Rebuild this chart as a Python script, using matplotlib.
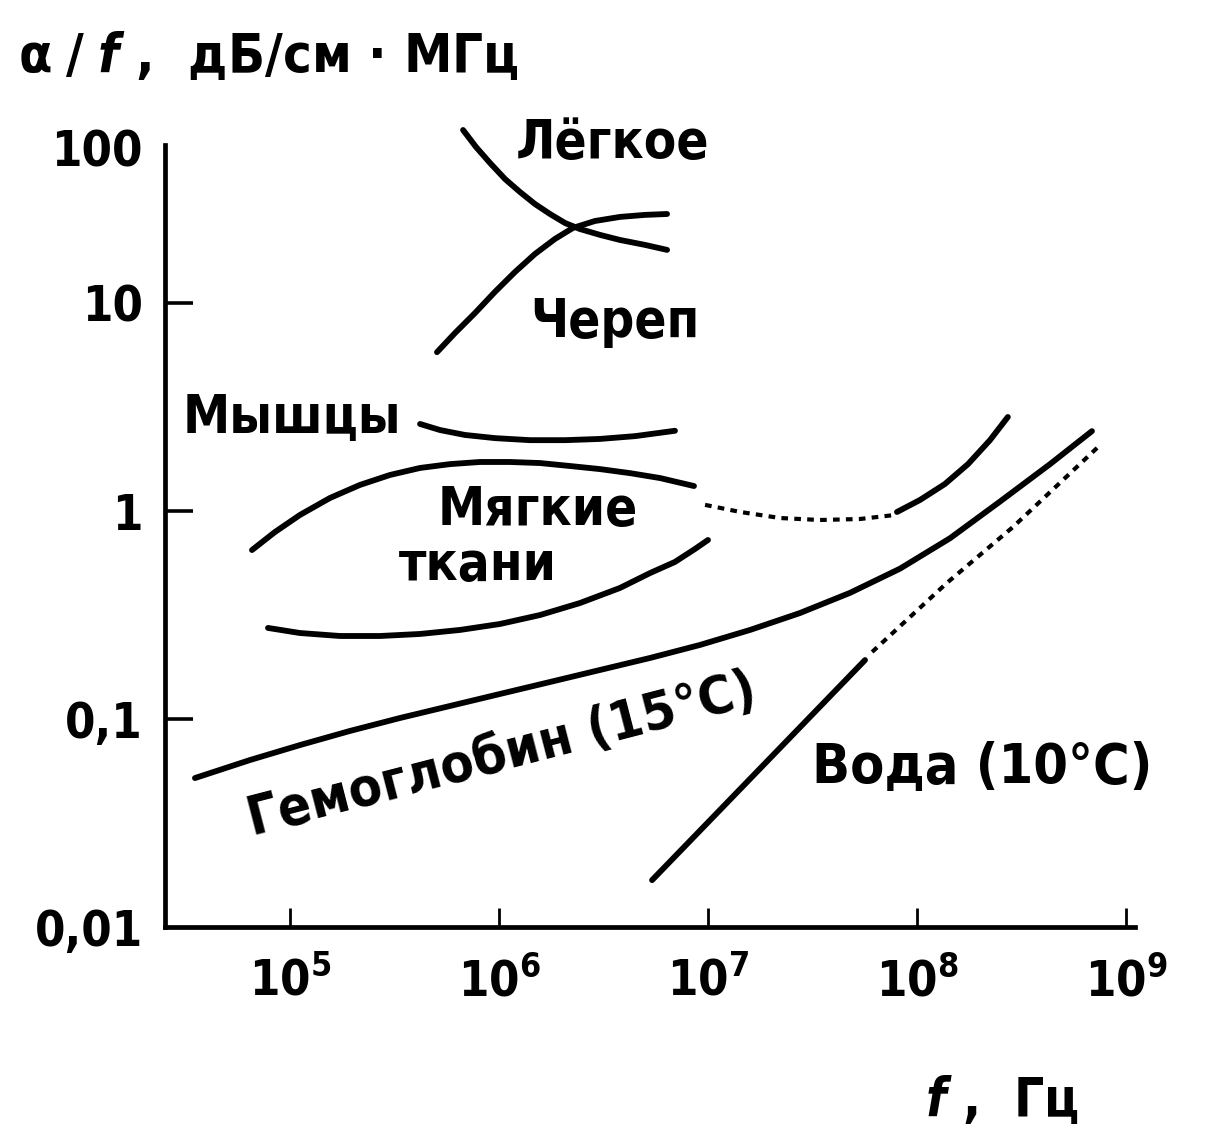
import numpy as np
import matplotlib
matplotlib.use("Agg")
import matplotlib.pyplot as plt
from matplotlib.ticker import FixedLocator, NullLocator

plt.rcParams['font.family'] = ['DejaVu Sans']
plt.rcParams['font.stretch'] = 'condensed'
plt.rcParams['font.weight'] = 'bold'
plt.rcParams['mathtext.fontset'] = 'dejavusans'

# ---------------- data (f in Hz, alpha/f in dB/(cm*MHz)) ----------------
lung_f = [6.73e5, 7.76e5, 9.06e5, 1.068e6, 1.26e6, 1.486e6, 1.754e6, 2.07e6, 2.44e6, 3.04e6, 3.79e6, 4.99e6, 6.37e6]
lung_a = [130.6, 101.5, 80.0, 63.1, 52.0, 43.5, 37.5, 32.8, 30.0, 27.5, 25.5, 23.7, 22.0]

skull_f = [5.05e5, 6.16e5, 7.68e5, 9.57e5, 1.193e6, 1.486e6, 1.853e6, 2.26e6, 2.88e6, 3.79e6, 4.99e6, 6.37e6]
skull_a = [5.8, 7.17, 8.95, 11.8, 15.85, 20.7, 25.9, 30.5, 33.8, 35.9, 37.0, 37.5]

muscle_f = [4.19e5, 5.22e5, 6.87e5, 9.57e5, 1.407e6, 2.07e6, 3.04e6, 4.48e6, 6.95e6]
muscle_a = [2.62, 2.45, 2.32, 2.24, 2.19, 2.19, 2.22, 2.29, 2.43]

soft_up_f = [6.58e4, 8.47e4, 1.116e5, 1.554e5, 2.16e5, 3.01e5, 4.19e5, 5.83e5, 8.11e5, 1.129e6,
             1.57e6, 2.187e6, 3.04e6, 4.24e6, 5.89e6, 8.57e6]
soft_up_a = [0.649, 0.792, 0.957, 1.155, 1.334, 1.49, 1.61, 1.68, 1.72, 1.72,
             1.70, 1.645, 1.59, 1.52, 1.44, 1.318]

soft_dash_f = [9.68e6, 1.42e7, 2.21e7, 3.43e7, 5.33e7, 7.85e7]
soft_dash_a = [1.07, 0.99, 0.925, 0.905, 0.915, 0.957]

soft_hi_f = [8.02e7, 1.034e8, 1.36e8, 1.754e8, 2.234e8, 2.72e8]
soft_hi_a = [0.989, 1.13, 1.348, 1.68, 2.19, 2.83]

soft_low_f = [7.85e4, 1.116e5, 1.734e5, 2.696e5, 4.19e5, 6.51e5, 1.01e6, 1.57e6, 2.44e6, 3.79e6,
              5.28e6, 6.95e6, 8.66e6, 1.0e7]
soft_low_a = [0.274, 0.259, 0.2506, 0.2506, 0.2563, 0.268, 0.2862, 0.316, 0.361, 0.4264,
              0.503, 0.569, 0.6566, 0.7254]

hemo_f = [3.51e4, 6.44e4, 1.12e5, 1.936e5, 3.36e5, 5.83e5, 1.01e6, 1.754e6, 3.04e6, 5.28e6,
          9.16e6, 1.59e7, 2.75e7, 4.78e7, 8.29e7, 1.44e8, 2.495e8, 4.33e8, 6.87e8]
hemo_a = [0.052, 0.0635, 0.075, 0.0876, 0.1011, 0.1155, 0.1319, 0.1506, 0.172, 0.1965,
          0.227, 0.268, 0.323, 0.404, 0.528, 0.74, 1.11, 1.68, 2.42]

water_f = [5.4e6, 5.64e7]
water_a = [0.0168, 0.192]

water_dash_f = [6.1e7, 1.39e8, 2.88e8, 7.5e8]
water_dash_a = [0.21, 0.451, 0.838, 2.07]

y_ticks = [0.01, 0.1, 1, 10, 100]
y_ticklabels = ['0,01', '0,1', '1', '10', '100']
x_ticks = [1e5, 1e6, 1e7, 1e8, 1e9]
x_ticklabels = [r'$\mathbf{10^{5}}$', r'$\mathbf{10^{6}}$', r'$\mathbf{10^{7}}$',
                r'$\mathbf{10^{8}}$', r'$\mathbf{10^{9}}$']

# ---------------- figure ----------------
W, H = 1209, 1135
fig = plt.figure(figsize=(W / 100, H / 100), dpi=100)
ax = fig.add_axes([165 / W, 1 - 927 / H, 970 / W, (927 - 145) / H])

# the printed y axis compresses the 10..100 decade
K = 155.0 / 208.0


def fwd(v):
    v = np.asarray(v, dtype=float)
    L = np.log10(np.clip(v, 1e-300, None))
    return np.where(L <= 1, L, 1 + (L - 1) * K)


def inv(u):
    u = np.asarray(u, dtype=float)
    return np.where(u <= 1, 10.0 ** u, 10.0 ** (1 + (u - 1) / K))


ax.set_xscale('log')
ax.set_yscale('function', functions=(fwd, inv))
ax.set_xlim(10 ** 4.402, 10 ** 9.043)
ax.set_ylim(0.01, 104.5)

lw = 4.2
solid = dict(color='black', lw=lw, solid_capstyle='round', solid_joinstyle='round')
dashed = dict(color='black', lw=3.0, ls=(0, (1.6, 1.5)))

ax.plot(lung_f, lung_a, clip_on=False, **solid)
ax.plot(skull_f, skull_a, **solid)
ax.plot(muscle_f, muscle_a, **solid)
ax.plot(soft_up_f, soft_up_a, **solid)
ax.plot(soft_dash_f, soft_dash_a, **dashed)
ax.plot(soft_hi_f, soft_hi_a, **solid)
ax.plot(soft_low_f, soft_low_a, **solid)
ax.plot(hemo_f, hemo_a, **solid)
ax.plot(water_f, water_a, **solid)
ax.plot(water_dash_f, water_dash_a, **dashed)

# axes styling
for s in ['top', 'right']:
    ax.spines[s].set_visible(False)
ax.spines['left'].set_linewidth(3.4)
ax.spines['bottom'].set_linewidth(3.4)
ax.spines['left'].set_capstyle('projecting')

ax.yaxis.set_major_locator(FixedLocator(y_ticks))
ax.set_yticklabels(y_ticklabels)
ax.yaxis.set_minor_locator(NullLocator())
ax.xaxis.set_major_locator(FixedLocator(x_ticks))
ax.set_xticklabels(x_ticklabels)
ax.xaxis.set_minor_locator(NullLocator())

ax.tick_params(axis='y', direction='in', length=20, width=2.6, pad=16, labelsize=35)
ax.tick_params(axis='x', direction='in', length=14, width=2.0, pad=22, labelsize=35)
# the top of the printed axis carries the "100" label but no tick mark
ax.yaxis.get_major_ticks()[-1].tick1line.set_visible(False)
ax.yaxis.get_major_ticks()[0].tick1line.set_visible(False)

# labels
fs = 38


def ftext(px, py, s, **kw):
    fig.text(px / W, 1 - py / H, s, fontsize=kw.pop('fontsize', fs), ha=kw.pop('ha', 'center'),
             va=kw.pop('va', 'center'), **kw)


ftext(18, 57, r'$\mathbf{\alpha\;/\;}\mathit{f}$ ,  дБ/см · МГц', ha='left', fontsize=39)
ftext(1002, 1100, r'$\mathit{f}$ ,  Гц')
ftext(612, 143, 'Лёгкое')
ftext(615, 322, 'Череп')
ftext(292, 418, 'Мышцы')
ftext(538, 510, 'Мягкие')
ftext(478, 565, 'ткани')
ftext(982, 768, 'Вода (10°C)', fontsize=40)
ftext(502, 755, 'Гемоглобин (15°C)', rotation=14.5, rotation_mode='anchor', fontsize=39)

fig.savefig('out.png', dpi=100)
